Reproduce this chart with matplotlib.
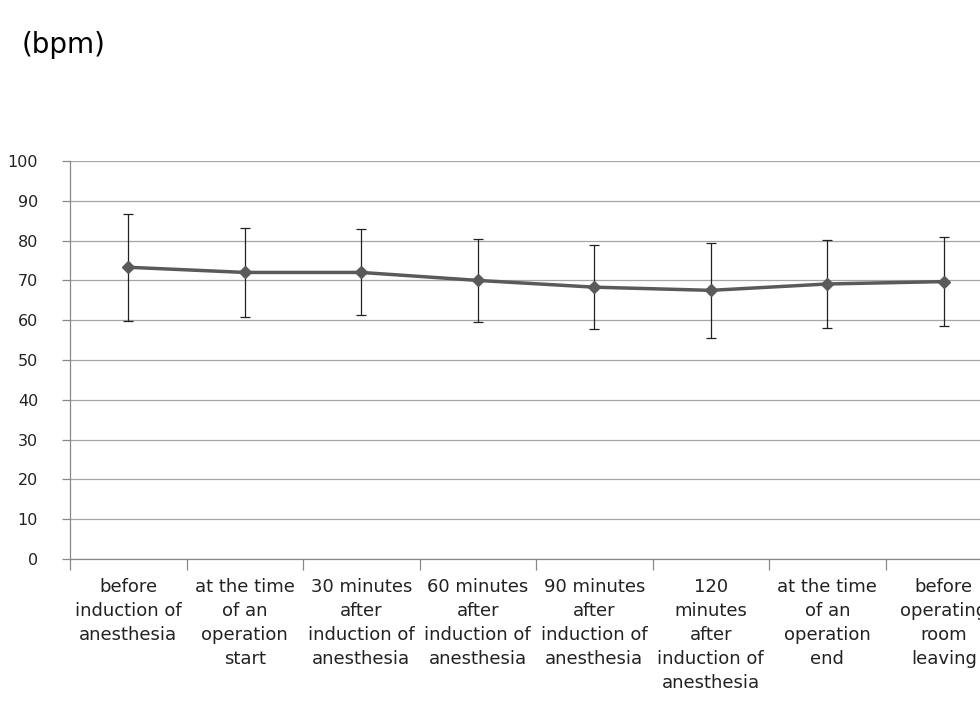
import numpy as np
import matplotlib
matplotlib.use("Agg")
import matplotlib.pyplot as plt
from matplotlib.ticker import FixedLocator, NullFormatter

plt.rcParams['font.family'] = ['DejaVu Sans']

# heart rate per time point (mean and SD)
labels = ["before\ninduction of\nanesthesia",
          "at the time\nof an\noperation\nstart",
          "30 minutes\nafter\ninduction of\nanesthesia",
          "60 minutes\nafter\ninduction of\nanesthesia",
          "90 minutes\nafter\ninduction of\nanesthesia",
          "120\nminutes\nafter\ninduction of\nanesthesia",
          "at the time\nof an\noperation\nend",
          "before\noperating\nroom\nleaving"]
hr_mean = [73.3, 72.0, 72.0, 70.0, 68.3, 67.5, 69.1, 69.7]
hr_sd = [13.5, 11.1, 10.8, 10.5, 10.5, 11.9, 11.1, 11.1]

fig = plt.figure(figsize=(9.8, 7.07), dpi=100)
# axes runs past the right edge like in the original screenshot
ax = fig.add_axes([70/980, (707-559)/707, (1002-70)/980, (559-161)/707])

x = np.arange(len(hr_mean))
ax.errorbar(x, hr_mean, yerr=hr_sd, color='#5a5a5a', lw=2.5, marker='D', ms=6,
            ecolor='#222222', elinewidth=0.9, capsize=3.5, capthick=0.9, zorder=3)

ax.set_xlim(-0.5, len(hr_mean) - 0.5)
ax.set_ylim(0, 100)
ax.set_yticks(np.arange(0, 101, 10))
ax.yaxis.grid(True, color='#a6a6a6', lw=0.9)
ax.set_axisbelow(True)

ax.set_xticks(x)
ax.set_xticklabels(labels, fontsize=13, linespacing=1.42, color='#222222',
                   va='top', ha='center')
ax.tick_params(axis='x', which='major', length=0, pad=14)
ax.xaxis.set_minor_locator(FixedLocator(np.arange(-0.5, len(hr_mean), 1.0)))
ax.xaxis.set_minor_formatter(NullFormatter())
ax.tick_params(axis='x', which='minor', length=8, color='#888888', width=0.9)
ax.tick_params(axis='y', length=6, color='#888888', width=0.9, labelsize=11.5,
               labelcolor='#222222', pad=17)

for s in ['top', 'right']:
    ax.spines[s].set_visible(False)
for s in ['left', 'bottom']:
    ax.spines[s].set_color('#888888')
    ax.spines[s].set_linewidth(0.9)

fig.text(22/980, 1 - 45/707, "(bpm)", fontsize=20, va='center', ha='left')

fig.savefig("out.png", dpi=100)
